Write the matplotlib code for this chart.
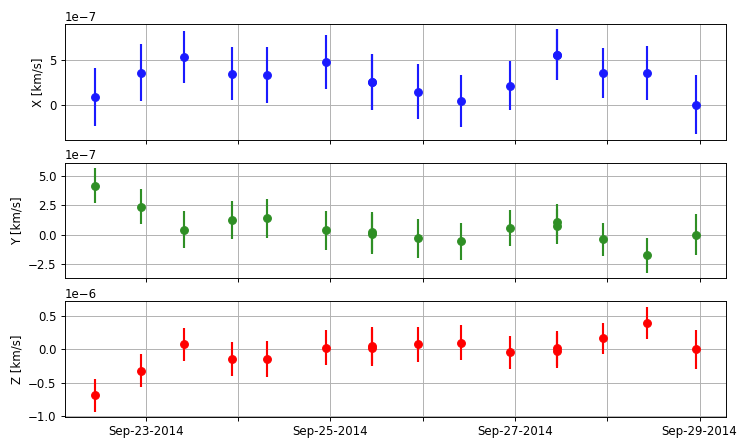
import numpy as np
import pandas as pd
import matplotlib
matplotlib.use('Agg')
import matplotlib.pyplot as plt
import matplotlib.dates as mdates
from matplotlib.ticker import FuncFormatter

# 观测时间（两处有重复观测）
times = pd.to_datetime([
    '2014-09-22 10:48', '2014-09-22 22:48', '2014-09-23 10:05', '2014-09-23 22:34',
    '2014-09-24 07:26', '2014-09-24 22:48', '2014-09-25 10:48', '2014-09-25 10:48',
    '2014-09-25 22:48', '2014-09-26 10:05', '2014-09-26 22:48', '2014-09-27 10:48',
    '2014-09-27 10:48', '2014-09-27 22:48', '2014-09-28 10:19', '2014-09-28 23:02',
])

# 速度分量 [km/s]
vx = np.array([0.86, 3.56, 5.33, 3.44, 3.26, 4.74, 2.52, 2.52,
               1.41, 0.41, 2.11, 5.56, 5.56, 3.48, 3.56, -0.04]) * 1e-7
ex = np.array([3.25, 3.15, 2.9, 2.97, 3.1, 3.0, 3.1, 3.1,
               3.05, 2.87, 2.72, 2.8, 2.8, 2.76, 3.0, 3.28]) * 1e-7

vy = np.array([4.15, 2.39, 0.43, 1.25, 1.39, 0.37, 0.25, 0.05,
               -0.31, -0.57, 0.57, 1.08, 0.71, -0.40, -1.76, 0.0]) * 1e-7
ey = np.array([1.5, 1.48, 1.55, 1.6, 1.65, 1.63, 1.7, 1.7,
               1.63, 1.6, 1.52, 1.5, 1.5, 1.4, 1.5, 1.73]) * 1e-7

vz = np.array([-0.69, -0.32, 0.08, -0.14, -0.14, 0.03, 0.06, 0.03,
               0.08, 0.10, -0.045, 0.02, -0.02, 0.17, 0.40, 0.0]) * 1e-6
ez = np.array([0.25, 0.245, 0.25, 0.26, 0.27, 0.27, 0.275, 0.275,
               0.265, 0.265, 0.255, 0.265, 0.265, 0.235, 0.245, 0.29]) * 1e-6

DPI = 85
fig, axes = plt.subplots(3, 1, figsize=(737 / DPI, 439 / DPI), dpi=DPI, sharex=True)
fig.subplots_adjust(left=0.088, right=0.985, top=0.945, bottom=0.050, hspace=0.2)

series = [(vx, ex, '#1a1aff', 'X [km/s]'),
          (vy, ey, '#2f8f25', 'Y [km/s]'),
          (vz, ez, '#ff0000', 'Z [km/s]')]

for ax, (v, e, c, lab) in zip(axes, series):
    ax.errorbar(times, v, yerr=e, fmt='o', color=c, ecolor=c,
                markersize=6.5, elinewidth=1.8)
    ax.set_ylabel(lab)
    ax.grid(True)

axes[-1].xaxis.set_major_locator(mdates.DayLocator(interval=1))


def day_fmt(x, pos):
    d = mdates.num2date(x)
    return d.strftime('%b-%d-%Y') if d.day % 2 == 1 else ''


axes[-1].xaxis.set_major_formatter(FuncFormatter(day_fmt))

plt.savefig('out.png', dpi=DPI)
